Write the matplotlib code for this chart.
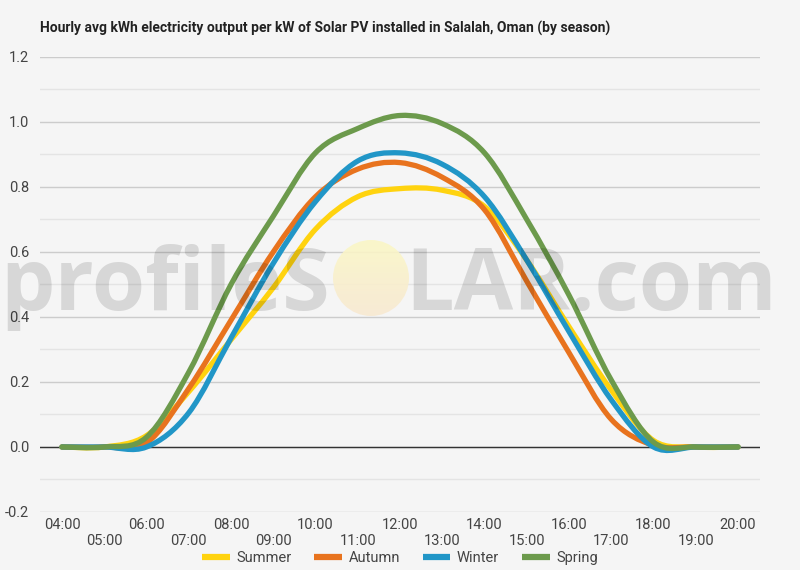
import matplotlib
matplotlib.use('Agg')
import matplotlib.pyplot as plt
import numpy as np
from matplotlib.path import Path
from matplotlib.patches import PathPatch, Circle
from matplotlib.lines import Line2D

hours = np.arange(4, 21)
hour_labels = ['%02d:00' % h for h in hours]

summer = [0.0, 0.0, 0.035, 0.17, 0.33, 0.49, 0.67, 0.77, 0.795, 0.79, 0.74, 0.575, 0.37, 0.175, 0.02, 0.0, 0.0]
autumn = [0.0, 0.0, 0.012, 0.18, 0.39, 0.60, 0.77, 0.855, 0.875, 0.83, 0.73, 0.51, 0.29, 0.085, 0.005, 0.0, 0.0]
winter = [0.0, 0.0, 0.0, 0.105, 0.335, 0.565, 0.755, 0.88, 0.905, 0.87, 0.77, 0.575, 0.355, 0.145, 0.0, 0.0, 0.0]
spring = [0.0, 0.0, 0.03, 0.23, 0.50, 0.71, 0.905, 0.98, 1.02, 0.995, 0.905, 0.70, 0.467, 0.206, 0.015, 0.0, 0.0]

series = [('Summer', summer, '#FFD30F'),
          ('Autumn', autumn, '#E8731E'),
          ('Winter', winter, '#2196C7'),
          ('Spring', spring, '#6C9A4C')]

BG = '#f5f5f5'
plt.rcParams['font.family'] = ['Roboto', 'DejaVu Sans']


def smooth_path(x, y):
    # catmull-rom segments as cubic bezier
    x = np.asarray(x, float)
    y = np.asarray(y, float)
    n = len(x)
    verts = [(x[0], y[0])]
    codes = [Path.MOVETO]
    for i in range(n - 1):
        i0 = max(i - 1, 0)
        i3 = min(i + 2, n - 1)
        c1 = (x[i] + (x[i + 1] - x[i0]) / 6, y[i] + (y[i + 1] - y[i0]) / 6)
        c2 = (x[i + 1] - (x[i3] - x[i]) / 6, y[i + 1] - (y[i3] - y[i]) / 6)
        verts += [c1, c2, (x[i + 1], y[i + 1])]
        codes += [Path.CURVE4] * 3
    return Path(verts, codes)


fig = plt.figure(figsize=(8, 5.7), dpi=100, facecolor=BG)
ax = fig.add_axes([0.05, 0.1018, 0.90, 0.7982])
ax.set_facecolor(BG)

ax.set_xlim(3.48, 20.52)
ax.set_ylim(-0.2, 1.2)
ax.set_yticks(np.arange(-0.2, 1.21, 0.2))
ax.set_yticklabels(['%.1f' % v for v in np.arange(-0.2, 1.21, 0.2)])
ax.set_yticks(np.arange(-0.1, 1.2, 0.2), minor=True)
ax.grid(which='major', axis='y', color='#cccccc', linewidth=1)
ax.grid(which='minor', axis='y', color='#e4e4e4', linewidth=1)
ax.axhline(0, color='#333333', linewidth=1, zorder=2)
ax.set_xticks(hours)
ax.set_xticklabels([lab if i % 2 == 0 else '\n' + lab for i, lab in enumerate(hour_labels)],
                   linespacing=1.25)
ax.tick_params(axis='both', which='both', length=0, labelsize=10.5, colors='#444444')
ax.tick_params(axis='x', pad=4)
ax.tick_params(axis='y', pad=8)
for s in ax.spines.values():
    s.set_visible(False)

handles = []
for name, vals, col in series:
    p = PathPatch(smooth_path(hours, vals), fill=False, edgecolor=col, linewidth=3.8,
                  capstyle='round', joinstyle='round', zorder=3)
    ax.add_patch(p)
    handles.append(Line2D([], [], color=col, linewidth=4.5, solid_capstyle='butt', label=name))

# watermark
fig.text(330 / 800, 1 - 310 / 570, 'profileS', ha='right', va='baseline', fontsize=62,
         family='Open Sans', fontweight='bold', color='black', alpha=0.12, zorder=10)
fig.text(405 / 800, 1 - 310 / 570, 'LAR.com', ha='left', va='baseline', fontsize=62,
         family='Open Sans', fontweight='bold', color='black', alpha=0.12, zorder=10)
sun_ax = fig.add_axes([0, 0, 1, 1], facecolor='none')
sun_ax.set_xlim(0, 800)
sun_ax.set_ylim(570, 0)
sun_ax.axis('off')
grad = np.linspace(0, 1, 100).reshape(-1, 1)
cmap = matplotlib.colors.LinearSegmentedColormap.from_list('sun', ['#fbf7c6', '#f8e9d2'])
im = sun_ax.imshow(grad, extent=(333, 409, 316, 240), cmap=cmap, aspect='auto', alpha=0.9, zorder=1)
circ = Circle((371, 278), 38, transform=sun_ax.transData)
im.set_clip_path(circ)

fig.text(40 / 800, 1 - 28 / 570, 'Hourly avg kWh electricity output per kW of Solar PV installed in Salalah, Oman (by season)',
         ha='left', va='center', fontsize=10, fontweight='bold', color='#222222')

fig.legend(handles=handles, loc='center', bbox_to_anchor=(0.5, 1 - 558 / 570), ncol=4,
           frameon=False, fontsize=10.5, handlelength=1.9, handletextpad=0.45, columnspacing=1.55,
           labelcolor='#444444')

fig.savefig('out.png', dpi=100, facecolor=BG)
